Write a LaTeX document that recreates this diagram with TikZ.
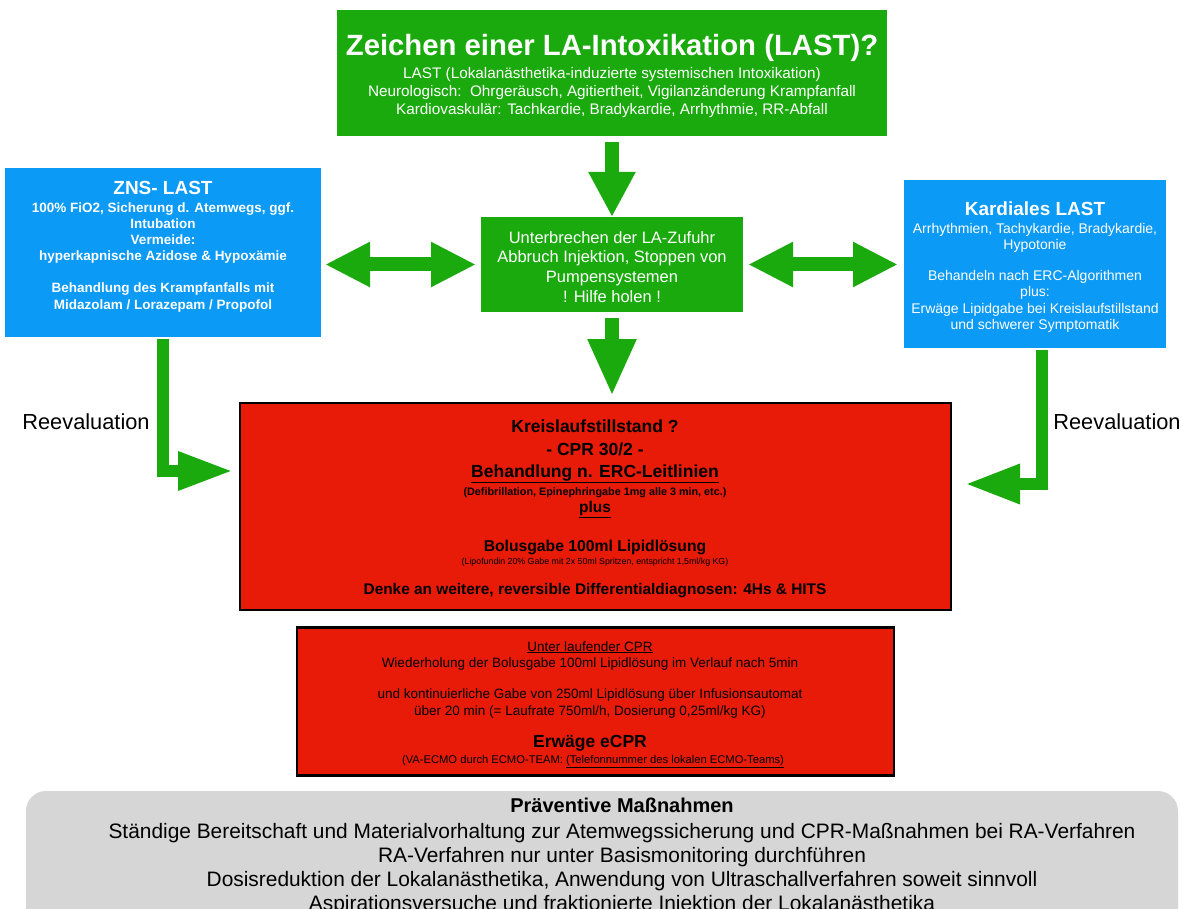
\documentclass[tikz,border=0pt]{standalone}
\usepackage{fontspec}
\setmainfont{Liberation Sans}
\usetikzlibrary{arrows.meta}
\definecolor{lgreen}{RGB}{26,170,13}
\definecolor{lblue}{RGB}{12,154,247}
\definecolor{lred}{RGB}{232,27,8}
\definecolor{lgray}{RGB}{214,214,214}
\newcommand\fsz[1]{\fontsize{#1}{#1}\selectfont}
\begin{document}
\begin{tikzpicture}[x=1pt,y=-1pt,
  box/.style={rectangle, inner sep=0pt, outer sep=0pt},
  gbox/.style={box, fill=lgreen},
  bbox/.style={box, fill=lblue},
  rbox/.style={box, fill=lred, draw=black, line width=2.5pt},
  wt/.style={text=white, inner sep=0pt, anchor=base},
  kt/.style={text=black, inner sep=0pt, anchor=base},
  fat/.style={draw=lgreen, line width=#1, line join=miter},
]
\clip (0,0) rectangle (1183,909);
\fill[white] (0,0) rectangle (1183,909);

% boxes
\node[gbox, minimum width=550, minimum height=126] (top) at (612,73) {};
\node[bbox, minimum width=316, minimum height=169] (zns) at (163,252.5) {};
\node[bbox, minimum width=262, minimum height=168] (kard) at (1035,264) {};
\node[gbox, minimum width=262, minimum height=95] (mid) at (612,264.5) {};
\node[rbox, minimum width=711, minimum height=207] (red1) at (595.5,506.5) {};
\node[rbox, minimum width=597, minimum height=148] (red2) at (595.5,701.5) {};
\node[box, fill=lgray, rounded corners=20pt, minimum width=1152, minimum height=160] (prev) at (602,871) {};

% top box text
\node[wt, font=\bfseries\fsz{29.3}] (t0) at (612,55.5) {Zeichen einer LA-Intoxikation (LAST)?};
\node[wt, font=\fsz{15.3}] (t1) at (612,78.5) {LAST (Lokalanästhetika-induzierte systemischen Intoxikation)};
\node[wt, font=\fsz{15.3}] (t2) at (612,96.5) {Neurologisch:\ \ Ohrgeräusch, Agitiertheit, Vigilanzänderung Krampfanfall};
\node[wt, font=\fsz{15.3}] (t3) at (612,114.5) {Kardiovaskulär: Tachkardie, Bradykardie, Arrhythmie, RR-Abfall};

% ZNS text
\node[wt, font=\bfseries\fsz{19}] (z0) at (163,195) {ZNS- LAST};
\node[wt, font=\bfseries\fsz{13.5}] (z1) at (163,213) {100\% FiO2, Sicherung d. Atemwegs, ggf.};
\node[wt, font=\bfseries\fsz{13.5}] (z2) at (163,229) {Intubation};
\node[wt, font=\bfseries\fsz{13.5}] (z3) at (163,245) {Vermeide:};
\node[wt, font=\bfseries\fsz{13.5}] (z4) at (163,261) {hyperkapnische Azidose \& Hypoxämie};
\node[wt, font=\bfseries\fsz{13.5}] (z5) at (163,293) {Behandlung des Krampfanfalls mit};
\node[wt, font=\bfseries\fsz{13.5}] (z6) at (163,309) {Midazolam / Lorazepam / Propofol};

% Kardiales text
\node[wt, font=\bfseries\fsz{19}] (k0) at (1035,216) {Kardiales LAST};
\node[wt, font=\fsz{14}] (k1) at (1035,234) {Arrhythmien, Tachykardie, Bradykardie,};
\node[wt, font=\fsz{14}] (k2) at (1035,250) {Hypotonie};
\node[wt, font=\fsz{14}] (k3) at (1035,281) {Behandeln nach ERC-Algorithmen};
\node[wt, font=\fsz{14}] (k4) at (1035,297) {plus:};
\node[wt, font=\fsz{14}] (k5) at (1035,313) {Erwäge Lipidgabe bei Kreislaufstillstand};
\node[wt, font=\fsz{14}] (k6) at (1035,329) {und schwerer Symptomatik};

% middle text
\node[wt, font=\fsz{16.5}] (m1) at (612,244) {Unterbrechen der LA-Zufuhr};
\node[wt, font=\fsz{16.5}] (m2) at (612,263) {Abbruch Injektion, Stoppen von};
\node[wt, font=\fsz{16.5}] (m3) at (612,283) {Pumpensystemen};
\node[wt, font=\fsz{16.5}] (m4) at (612,302) {! Hilfe holen !};

% red box 1 text
\node[kt, font=\bfseries\fsz{17.5}] (r1) at (595,432.5) {Kreislaufstillstand ?};
\node[kt, font=\bfseries\fsz{17.5}] (r2) at (595,455.5) {- CPR 30/2 -};
\node[kt, font=\bfseries\fsz{17.5}] (r3) at (595,477.5) {\underline{Behandlung n. ERC-Leitlinien}};
\node[kt, font=\bfseries\fsz{10.8}] (r4) at (595,495) {(Defibrillation, Epinephringabe 1mg alle 3 min, etc.)};
\node[kt, font=\bfseries\fsz{15.5}] (r5) at (595,512.5) {\underline{plus}};
\node[kt, font=\bfseries\fsz{15.7}] (r6) at (595,551.5) {Bolusgabe 100ml Lipidlösung};
\node[kt, font=\fsz{8.8}] (r7) at (595,564) {(Lipofundin 20\% Gabe mit 2x 50ml Spritzen, entspricht 1,5ml/kg KG)};
\node[kt, font=\bfseries\fsz{15.4}] (r8) at (595,594.5) {Denke an weitere, reversible Differentialdiagnosen: 4Hs \& HITS};

% red box 2 text
\node[kt, font=\fsz{13.5}] (s1) at (590,651) {\underline{Unter laufender CPR}};
\node[kt, font=\fsz{13.5}] (s2) at (590,667) {Wiederholung der Bolusgabe 100ml Lipidlösung im Verlauf nach 5min};
\node[kt, font=\fsz{13.5}] (s3) at (590,698) {und kontinuierliche Gabe von 250ml Lipidlösung über Infusionsautomat};
\node[kt, font=\fsz{13.5}] (s4) at (590,715) {über 20 min (= Laufrate 750ml/h, Dosierung 0,25ml/kg KG)};
\node[kt, font=\bfseries\fsz{17.5}] (s5) at (590,747.5) {Erwäge eCPR};
\node[kt, font=\fsz{11.2}] (s6) at (593,763) {(VA-ECMO durch ECMO-TEAM: \underline{(Telefonnummer des lokalen ECMO-Teams)}};

% preventive text
\node[kt, font=\bfseries\fsz{20}] (p0) at (622,812) {Präventive Maßnahmen};
\node[kt, font=\fsz{20.9}] (p1) at (622,838.5) {Ständige Bereitschaft und Materialvorhaltung zur Atemwegssicherung und CPR-Maßnahmen bei RA-Verfahren};
\node[kt, font=\fsz{20.9}] (p2) at (622,862.5) {RA-Verfahren nur unter Basismonitoring durchführen};
\node[kt, font=\fsz{20.9}] (p3) at (622,886.5) {Dosisreduktion der Lokalanästhetika, Anwendung von Ultraschallverfahren soweit sinnvoll};
\node[kt, font=\fsz{20.9}] (p4) at (622,910.5) {Aspirationsversuche und fraktionierte Injektion der Lokalanästhetika};

% Reevaluation labels
\node[kt, font=\fsz{21.8}] (re1) at (86,429.5) {Reevaluation};
\node[kt, font=\fsz{21.8}] (re2) at (1117,429.5) {Reevaluation};

% arrows
\draw[fat=14pt, -{Triangle[width=44pt,length=45pt]}, shorten <=6pt] (top.south) -- (top.south |- mid.north);
\draw[fat=14pt, -{Triangle[width=45pt,length=57pt]}, shorten <=6pt, shorten >=7pt] (mid.south) -- (mid.south |- red1.north);
\draw[fat=14pt, {Triangle[width=42pt,length=45pt]}-{Triangle[width=42pt,length=45pt]}, shorten <=4pt, shorten >=5pt] (zns.east |- mid.west) -- (mid.west);
\draw[fat=14pt, {Triangle[width=42pt,length=45pt]}-{Triangle[width=42pt,length=45pt]}, shorten <=5pt, shorten >=6pt] (mid.east) -- (kard.west |- mid.east);
\coordinate (lv) at (162.5,0);
\coordinate (lh) at (0,471);
\draw[fat=12pt, -{Triangle[width=36pt,length=55pt]}, shorten <=2pt, shorten >=7pt] (zns.south -| lv) |- (red1.west |- lh);
\coordinate (rv) at (1042,0);
\coordinate (rh) at (0,484);
\draw[fat=12pt, -{Triangle[width=37pt,length=55pt]}, shorten <=2pt, shorten >=14pt] (kard.south -| rv) |- (red1.east |- rh);
\end{tikzpicture}
\end{document}
